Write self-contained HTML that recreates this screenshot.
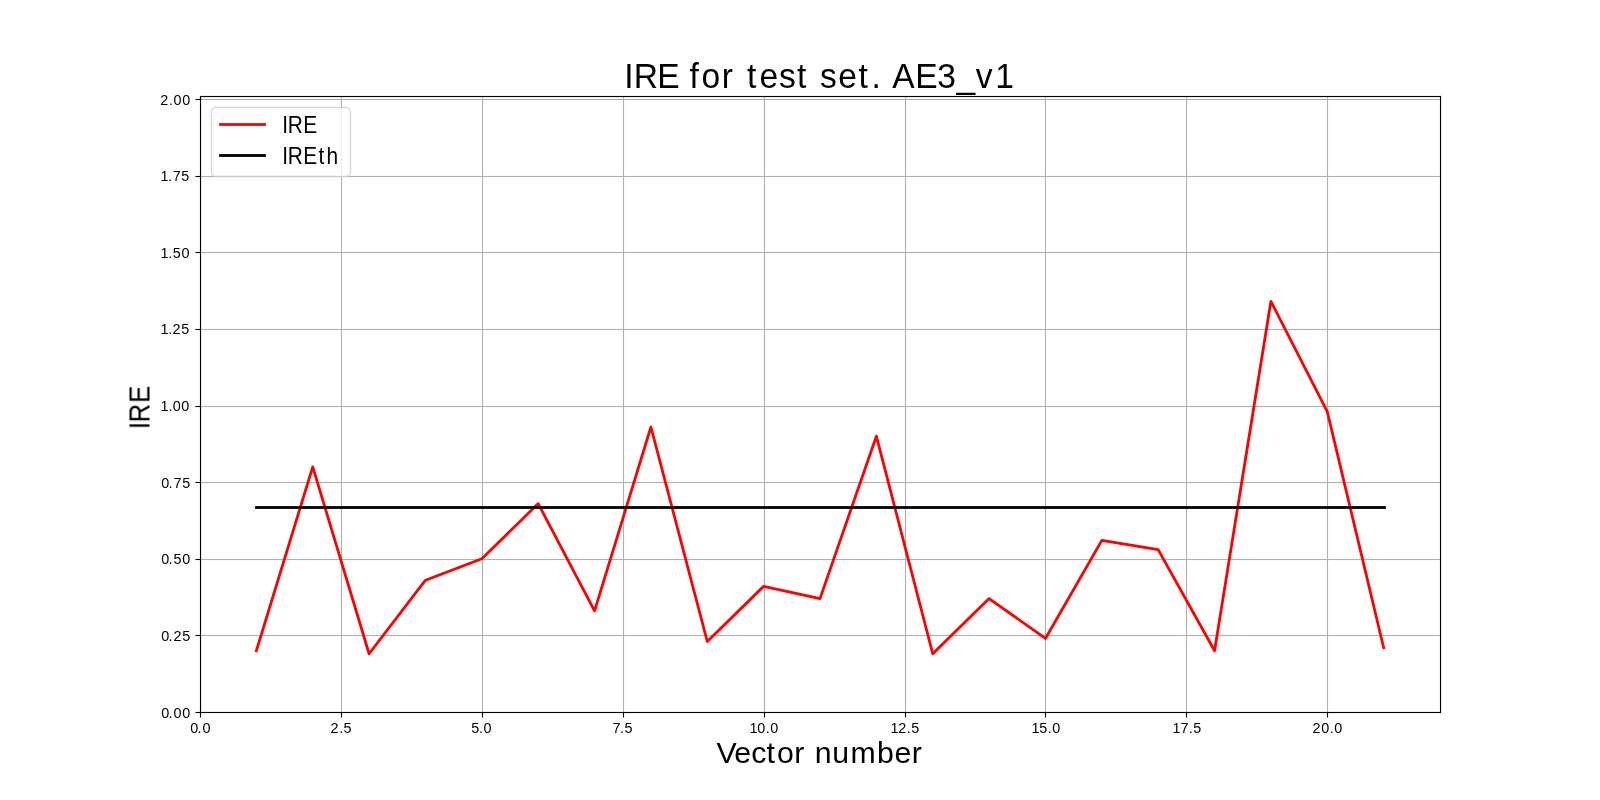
<!DOCTYPE html>
<html lang="en"><head><meta charset="utf-8"><title>IRE for test set. AE3_v1</title>
<style>
html,body{margin:0;padding:0;background:#fff;}
body{width:1600px;height:800px;overflow:hidden;font-family:"Liberation Sans",sans-serif;}
svg{display:block;}
svg text{font-family:"Liberation Sans",sans-serif;fill:#000;white-space:pre;}
</style></head><body>
<svg width="1600" height="800" viewBox="0 0 1600 800">
<rect x="0" y="0" width="1600" height="800" fill="#ffffff"/>
<g fill="#b0b0b0">
<rect x="340.945" y="96.5" width="1.11" height="616.0"/>
<rect x="481.945" y="96.5" width="1.11" height="616.0"/>
<rect x="622.945" y="96.5" width="1.11" height="616.0"/>
<rect x="763.945" y="96.5" width="1.11" height="616.0"/>
<rect x="904.945" y="96.5" width="1.11" height="616.0"/>
<rect x="1044.945" y="96.5" width="1.11" height="616.0"/>
<rect x="1185.945" y="96.5" width="1.11" height="616.0"/>
<rect x="1326.945" y="96.5" width="1.11" height="616.0"/>
<rect x="200.5" y="98.945" width="1240.0" height="1.11"/>
<rect x="200.5" y="175.945" width="1240.0" height="1.11"/>
<rect x="200.5" y="251.945" width="1240.0" height="1.11"/>
<rect x="200.5" y="328.945" width="1240.0" height="1.11"/>
<rect x="200.5" y="405.945" width="1240.0" height="1.11"/>
<rect x="200.5" y="481.945" width="1240.0" height="1.11"/>
<rect x="200.5" y="558.945" width="1240.0" height="1.11"/>
<rect x="200.5" y="634.945" width="1240.0" height="1.11"/>
</g>
<g fill="#000000">
<rect x="199.945" y="712.5" width="1.11" height="5"/>
<rect x="340.945" y="712.5" width="1.11" height="5"/>
<rect x="481.945" y="712.5" width="1.11" height="5"/>
<rect x="622.945" y="712.5" width="1.11" height="5"/>
<rect x="763.945" y="712.5" width="1.11" height="5"/>
<rect x="904.945" y="712.5" width="1.11" height="5"/>
<rect x="1044.945" y="712.5" width="1.11" height="5"/>
<rect x="1185.945" y="712.5" width="1.11" height="5"/>
<rect x="1326.945" y="712.5" width="1.11" height="5"/>
<rect x="195.5" y="711.945" width="5" height="1.11"/>
<rect x="195.5" y="634.945" width="5" height="1.11"/>
<rect x="195.5" y="558.945" width="5" height="1.11"/>
<rect x="195.5" y="481.945" width="5" height="1.11"/>
<rect x="195.5" y="405.945" width="5" height="1.11"/>
<rect x="195.5" y="328.945" width="5" height="1.11"/>
<rect x="195.5" y="251.945" width="5" height="1.11"/>
<rect x="195.5" y="175.945" width="5" height="1.11"/>
<rect x="195.5" y="98.945" width="5" height="1.11"/>
</g>
<clipPath id="ax"><rect x="200.0" y="96.0" width="1240.0" height="616.0"/></clipPath>
<g clip-path="url(#ax)">
<polyline fill="none" stroke="#ff0000" stroke-width="2.78" stroke-linejoin="round" stroke-linecap="square" points="256.36,650.71 312.73,466.83 369.09,653.77 425.45,580.22 481.82,558.77 538.18,503.60 594.55,610.87 650.91,426.99 707.27,641.51 763.64,586.35 820.00,598.61 876.36,436.18 932.73,653.77 989.09,598.61 1045.45,638.45 1101.82,540.38 1158.18,549.57 1214.55,650.71 1270.91,301.33 1327.27,411.66 1383.64,647.64"/>
<rect x="255.11" y="506.11" width="1130.78" height="2.78" fill="#000000"/>
</g>
<g fill="#000000">
<rect x="199.945" y="95.945" width="1.13" height="617.11"/>
<rect x="1439.945" y="95.945" width="1.11" height="617.11"/>
<rect x="199.945" y="95.945" width="1241.11" height="1.11"/>
<rect x="199.945" y="711.925" width="1241.11" height="1.13"/>
</g>
<rect x="211.5" y="107.5" width="139" height="69" rx="4.44" ry="4.44" fill="#ffffff" fill-opacity="0.8" stroke="#cccccc" stroke-opacity="0.8" stroke-width="1.39"/>
<rect x="219.11" y="123.11" width="46.78" height="2.78" fill="#ff0000"/>
<rect x="219.11" y="154.11" width="46.78" height="2.78" fill="#000000"/>
<g style="filter:grayscale(1)">
<text transform="translate(624,87.5) scale(0.95,1)" font-size="35.4" x="0.17 10.34 34.94 56.9 68.92 81.62 102.78 116.3 129.53 142.54 163.16 182.1 194.83 206.36 225.6 246.88 260.66 270.76 282.39 306.63 329.76 349.98 370.32 390.92">IRE for test set. AE3_v1</text>
<text transform="translate(716.95,763)" font-size="30.25" x="-0.43 17.22 34.36 49.59 60.12 77.23 88.52 97.73 115.21 133.46 160.11 177.62 194.72">Vector number</text>
<text transform="translate(149.5,430.95) rotate(-90) scale(0.9,1)" font-size="28.6" x="2.02 9.39 31.07">IRE</text>
<text transform="translate(281,132.5) scale(0.9,1)" font-size="23.2" x="1.42 7.42 24.72">IRE</text>
<text transform="translate(281,163.5) scale(0.9,1)" font-size="23.2" x="1.42 7.42 24.72 41.69 50.45">IREth</text>
<text transform="translate(189.78,733) scale(0.98,1)" font-size="14.7" x="0.49 7.83 13">0.0</text>
<text transform="translate(330.33,733) scale(0.98,1)" font-size="14.7" x="0.31 9.08 13.44">2.5</text>
<text transform="translate(470.18,733) scale(0.98,1)" font-size="14.7" x="1.19 9.08 13.5">5.0</text>
<text transform="translate(611.11,733) scale(0.98,1)" font-size="14.7" x="1.47 9.08 13.69">7.5</text>
<text transform="translate(748.72,733) scale(0.98,1)" font-size="14.7" x="0.68 8.83 17.42 22.08">10.0</text>
<text transform="translate(889.22,733) scale(0.98,1)" font-size="14.7" x="1.43 9.15 17.92 22.53">12.5</text>
<text transform="translate(1030.22,733) scale(0.98,1)" font-size="14.7" x="1.43 9.28 17.92 22.58">15.0</text>
<text transform="translate(1171.47,733) scale(0.98,1)" font-size="14.7" x="1.18 9.3 17.67 22.28">17.5</text>
<text transform="translate(1312.08,733) scale(0.98,1)" font-size="14.7" x="0.56 9.33 17.92 22.58">20.0</text>
<text transform="translate(160.08,718) scale(0.98,1)" font-size="14.7" x="1.24 8.58 13.75 22.58">0.00</text>
<text transform="translate(160.23,641) scale(0.98,1)" font-size="14.7" x="0.99 8.33 13.56 22.53">0.25</text>
<text transform="translate(160.08,564) scale(0.98,1)" font-size="14.7" x="1.24 8.58 13.69 22.58">0.50</text>
<text transform="translate(160.33,488) scale(0.98,1)" font-size="14.7" x="0.99 8.33 13.47 22.28">0.75</text>
<text transform="translate(159.37,411) scale(0.98,1)" font-size="14.7" x="1.18 9.33 13.75 22.33">1.00</text>
<text transform="translate(159.47,334) scale(0.98,1)" font-size="14.7" x="1.18 9.08 13.31 22.28">1.25</text>
<text transform="translate(159.22,258) scale(0.98,1)" font-size="14.7" x="1.43 9.33 13.69 22.83">1.50</text>
<text transform="translate(159.22,181) scale(0.98,1)" font-size="14.7" x="1.43 9.08 13.72 22.53">1.75</text>
<text transform="translate(159.03,105) scale(0.98,1)" font-size="14.7" x="1.31 10.08 14.75 23.58">2.00</text>
</g>
</svg>
</body></html>
